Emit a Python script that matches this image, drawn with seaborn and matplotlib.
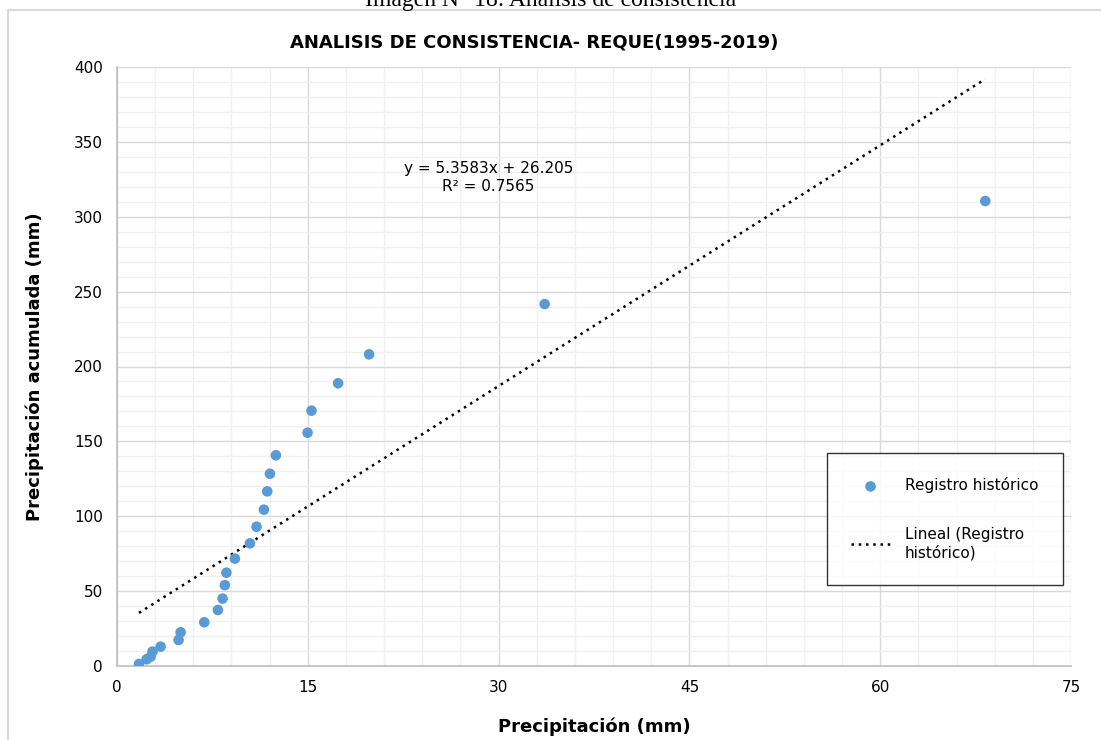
import numpy as np
import pandas as pd
import seaborn as sns
import matplotlib.pyplot as plt
from matplotlib.lines import Line2D
from matplotlib.ticker import MultipleLocator

# 降水量と累積降水量（1995-2019）
precip = [1.73, 2.33, 2.64, 2.79, 3.43, 4.84, 5.0, 6.86, 7.93, 8.3,
          8.48, 8.6, 9.27, 10.45, 10.97, 11.55, 11.81, 12.02, 12.49, 14.98,
          15.29, 17.38, 19.82, 33.62, 68.26]
accum = [1.3, 4.5, 6.2, 9.6, 12.9, 17.4, 22.5, 29.2, 37.4, 45.0,
         54.0, 62.3, 71.7, 81.9, 93.0, 104.4, 116.6, 128.4, 140.7, 155.8,
         170.5, 188.8, 208.1, 241.7, 310.5]

slope = 5.3583
intercept = 26.205
r2 = 0.7565

df = pd.DataFrame({"x": precip, "y": accum})
trend = pd.DataFrame({"x": [min(precip), max(precip)]})
trend["y"] = slope * trend["x"] + intercept

sns.set_style("white")
plt.rcParams["font.family"] = ["DejaVu Sans"]
plt.rcParams["text.color"] = "black"
plt.rcParams["axes.labelcolor"] = "black"

fig = plt.figure(figsize=(11.01, 7.40), dpi=100)
ax = fig.add_axes([117 / 1101, 74 / 740, 954 / 1101, 599 / 740])

# 近似直線（点線）
sns.lineplot(data=trend, x="x", y="y", ax=ax, color="black",
             linewidth=1.8, linestyle=(0, (1, 1.9)),
             label="Lineal (Registro\nhistórico)", zorder=3)
# 観測値
sns.scatterplot(data=df, x="x", y="y", ax=ax, color="#5b9bd5", s=58,
                edgecolor="none", label="Registro histórico", zorder=4)

ax.set_xlim(0, 75)
ax.set_ylim(0, 400)
ax.xaxis.set_major_locator(MultipleLocator(15))
ax.xaxis.set_minor_locator(MultipleLocator(3))
ax.yaxis.set_major_locator(MultipleLocator(50))
ax.yaxis.set_minor_locator(MultipleLocator(10))
ax.grid(which="major", color="#d9d9d9", linewidth=1.0)
ax.grid(which="minor", color="#f0f0f0", linewidth=1.0)
ax.set_axisbelow(True)
for side in ["top", "right"]:
    ax.spines[side].set_visible(False)
for side in ["left", "bottom"]:
    ax.spines[side].set_color("#bfbfbf")
    ax.spines[side].set_linewidth(1.2)
ax.tick_params(which="both", length=0, labelsize=11, colors="#000000", pad=10)

ax.set_xlabel("Precipitación (mm)", fontsize=13, fontweight="bold", labelpad=16)
ax.set_ylabel("Precipitación acumulada (mm)", fontsize=13, fontweight="bold", labelpad=22)

ax.text(29.2, 332, f"y = {slope}x + {intercept}", ha="center", va="center", fontsize=11)
ax.text(29.2, 320, f"R² = {r2}", ha="center", va="center", fontsize=11)

handles, labels = ax.get_legend_handles_labels()
order = [1, 0]
leg = ax.legend([handles[i] for i in order], [labels[i] for i in order],
                loc="upper left", bbox_to_anchor=(710 / 954, (666 - 453) / 599),
                frameon=True, fancybox=False, edgecolor="black", fontsize=11,
                borderpad=1.6, labelspacing=2.2, handlelength=2.5,
                handletextpad=1.0, borderaxespad=0)
leg.get_frame().set_linewidth(1.0)

fig.text(534 / 1101, 1 - 42 / 740, "ANALISIS DE CONSISTENCIA- REQUE(1995-2019)",
         ha="center", va="center", fontsize=13, fontweight="bold")
fig.text(551 / 1101, 1 - 6 / 740, "Imagen N° 18: Análisis de consistencia",
         ha="center", va="baseline", fontsize=17, family="Liberation Serif")

# 図枠
fig.add_artist(Line2D([8 / 1101, 1], [1 - 10 / 740, 1 - 10 / 740], color="#d9d9d9", linewidth=1.5))
fig.add_artist(Line2D([8 / 1101, 8 / 1101], [0, 1 - 10 / 740], color="#d9d9d9", linewidth=1.5))

fig.savefig("out.png", dpi=100)
